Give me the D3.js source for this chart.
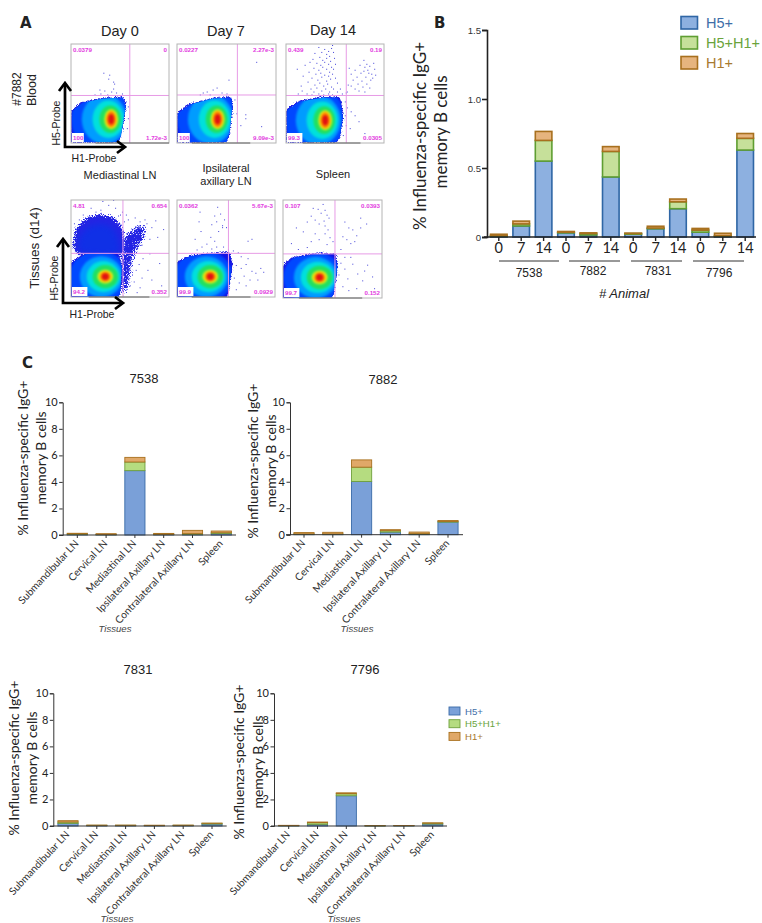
<!DOCTYPE html>
<html><head><meta charset="utf-8">
<script src="https://cdn.jsdelivr.net/npm/d3@7/dist/d3.min.js"></script>
<style>html,body{margin:0;padding:0;background:#fff}svg{display:block}text{fill:#222}</style>
</head><body><svg id="c" width="762" height="923"></svg>
<script>
// ---------- DATA ----------
const seriesKeys = ["H5+","H5+H1+","H1+"];
const bDays = ["0","7","14","0","7","14","0","7","14","0","7","14"];
const bH5   = [.005,.08,.55,.03,.015,.435,.02,.06,.205,.035,.005,.63];
const bBoth = [.005,.015,.15,.005,.01,.185,.005,.005,.05,.015,.005,.085];
const bH1   = [.01,.02,.065,.005,.005,.035,.003,.013,.02,.012,.017,.035];
const bTicks = [0,0.5,1.0,1.5];
const tissues = ["Submandibular LN","Cervical LN","Mediastinal LN","Ipsilateral Axillary LN","Contralateral Axillary LN","Spleen"];
const cTicks = [0,2,4,6,8,10];
const h5_7538=[.05,.02,4.85,.03,.05,.12], both_7538=[.03,.02,.65,.02,.05,.05], h1_7538=[.05,.06,.35,.07,.25,.13];
const h5_7882=[.03,.03,4.02,.2,.04,.95], both_7882=[.03,.03,1.08,.1,.04,.05], h1_7882=[.1,.12,.55,.08,.12,.07];
const h5_7831=[.2,.03,.03,.03,.03,.15], both_7831=[.1,.02,.02,.01,.02,.05], h1_7831=[.1,.02,.02,.02,.02,.02];
const h5_7796=[.02,.13,2.28,.01,.02,.15], both_7796=[.01,.12,.15,.01,.01,.06], h1_7796=[.02,.05,.07,.01,.01,.03];

const flowOutlineDay0=[[1,1],[1,32],[12,41],[33,45],[53,46],[56,37],[51,7],[48,1]];
const flowOutlineDay7=[[1,1],[1,30],[13,39],[36,45],[55,46],[56,37],[53,10],[50,1]];
const flowOutlineDay14=[[1,1],[1,33],[14,42],[38,46],[55,46],[58,26],[55,6],[51,1]];
const flowOutlineMed=[[0,0],[0,35],[16,45],[47,46],[52,31],[50,3],[48,0]];
const flowOutlineIpsi=[[0,0],[0,35],[13,42],[37,45],[54,46],[56,31],[52,3],[50,0]];
const flowOutlineSpl=[[0,0],[0,32],[10,41],[34,45],[53,45],[55,32],[51,4],[49,0]];
const medUpperBlob=[[3,46],[4,68],[10,78],[24,85],[40,84],[51,76],[55,62],[55,42]];
const medUpperCore=[[8,48],[10,64],[20,73],[34,75],[44,69],[49,56],[49,45]];
const medRightBlob=[[52,60],[60,70],[72,76],[79,70],[70,50],[64,38],[62,20],[57,2],[50,2]];
const bloodCores=[[-10,31,33],[-7,23,25],[-3,16,19],[-1,11,14],[0,7,10],[0,5,8],[0,3,5]];
const tissueCores=[[-7,30,27],[-4,22,21],[-2,17,16],[0,13,12],[0,8,7],[0,5.5,5],[0,3.5,3.4]];
const densityColors=["#0048ff","#009cff","#00e0dc","#22e060","#e8ea10","#ff8000","#e01212"];

const ptsDay0=[[33,71],[39,69],[38,65],[43,62],[44,60],[29,54],[34,53],[43,55],[46,51],[24,49],[52,50],[37,49],[56,42],[58,37],[58,25],[57,15],[47,48],[30,50],[41,52],[50,48]];
const ptsDay7=[[52,64],[36,54],[26,51],[40,56],[69,29],[69,25],[80,82],[85,17],[64,18],[23,49],[45,51],[33,49],[50,50],[30,52],[58,44],[60,30]];
const ptsDay14=[[33,97],[39,95],[43,93],[46,96],[47,99],[29,91],[36,92],[41,90],[44,88],[48,92],[27,85],[34,87],[37,84],[41,86],[45,83],[49,86],[24,82],[31,81],[35,79],[39,82],[43,80],[46,77],[50,80],[19,79],[28,76],[33,74],[37,77],[41,75],[44,72],[48,75],[11,75],[23,72],[30,70],[35,71],[39,69],[43,68],[47,70],[17,68],[26,66],[32,64],[36,67],[41,63],[45,65],[50,66],[22,62],[29,59],[34,61],[38,58],[42,60],[46,57],[52,61],[15,58],[25,55],[31,56],[36,53],[40,55],[44,52],[48,55],[16,53],[21,50],[28,52],[33,50],[38,49],[43,50],[47,49],[52,52],[55,55],[12,50],[26,49],[57,50],[61,51],[64,76],[66,70],[68,64],[70,74],[72,67],[73,60],[75,79],[76,71],[77,63],[78,57],[79,73],[80,77],[81,67],[82,60],[83,74],[84,71],[85,78],[86,64],[87,70],[88,66],[89,81],[90,75],[91,69],[79,84],[82,80],[70,55],[74,53],[80,52],[66,58],[63,59],[62,52],[85,56],[60,42],[62,36],[66,32],[70,28],[74,22],[60,28],[65,15],[61,18],[80,10],[58,8]];
const ptsMed=[[32,99],[43,100],[38,95],[20,92],[30,90],[45,92],[52,88],[12,85],[25,88],[50,85],[8,80],[48,84],[58,80],[65,82],[75,80],[86,79],[70,78],[77,76],[82,72],[74,74],[94,70],[88,62],[80,60],[72,54],[80,45],[73,40],[69,34],[78,28],[66,28],[72,20],[64,16],[70,10],[60,12],[90,35],[67,5],[82,18],[92,12],[56,85],[3,76],[54,78]];
const ptsIpsi=[[41,93],[23,88],[38,84],[44,86],[48,80],[22,78],[35,75],[40,78],[46,74],[50,72],[24,68],[42,68],[46,72],[18,60],[34,62],[38,58],[30,55],[25,52],[20,49],[40,52],[35,50],[47,52],[52,49],[57,48],[62,46],[72,58],[76,60],[65,30],[70,34],[76,27],[80,25],[60,33],[68,22],[74,18],[63,15],[85,30],[82,18],[70,12],[60,8],[58,20],[88,26],[72,40],[65,42]];
const ptsSpl=[[40,96],[35,91],[30,92],[42,90],[38,87],[28,84],[44,85],[32,80],[41,79],[24,78],[46,82],[36,76],[42,74],[45,70],[13,72],[20,68],[32,66],[42,66],[47,62],[28,58],[36,60],[44,55],[8,56],[15,50],[24,52],[50,58],[62,78],[66,72],[70,70],[74,64],[78,72],[72,58],[64,60],[60,63],[78,82],[68,56],[84,76],[58,50],[62,30],[65,20],[70,35],[75,25],[80,18],[85,34],[90,22],[60,12],[66,8],[74,10],[82,28],[58,36],[56,24],[92,10],[68,42],[62,42]];

const panels=[
 {x:71,y:44,w:98,h:99,vx:60,hy:48,outline:flowOutlineDay0,peak:[41,24],cores:bloodCores,pts:ptsDay0,ul:"0.0379",ur:"0",ll:"100",lr:"1.72e-3",floor:[25,100]},
 {x:177,y:44,w:99,h:99,vx:61,hy:48.5,outline:flowOutlineDay7,peak:[41,24],cores:bloodCores,pts:ptsDay7,ul:"0.0227",ur:"2.27e-3",ll:"100",lr:"9.09e-3",floor:[15,74]},
 {x:286,y:44,w:98,h:99,vx:61.5,hy:48,outline:flowOutlineDay14,peak:[40,23],cores:bloodCores,pts:ptsDay14,ul:"0.439",ur:"0.19",ll:"99.3",lr:"0.0305",floor:[17,76]},
 {x:71,y:200,w:98,h:97,vx:53,hy:45,outline:flowOutlineMed,peak:[35,21],cores:tissueCores,pts:ptsMed,ul:"4.81",ur:"0.654",ll:"94.2",lr:"0.352",floor:[18,80],extra:true},
 {x:177,y:200,w:98,h:97,vx:52.5,hy:45,outline:flowOutlineIpsi,peak:[34,21],cores:tissueCores,pts:ptsIpsi,ul:"0.0362",ur:"5.67e-3",ll:"99.9",lr:"0.0929",floor:[15,75]},
 {x:283,y:200,w:99,h:98,vx:52.5,hy:45,outline:flowOutlineSpl,peak:[37,21],cores:tissueCores,pts:ptsSpl,ul:"0.107",ur:"0.0393",ll:"99.7",lr:"0.152",floor:[16,80]}
];
const barPanels=[
 {title:"7538",a:[h5_7538,both_7538,h1_7538],ax:62.7,y0:535,y1:402.3,xEnd:236,first:77.3,tx:144,ty:383,t1:28,t2:46,cy:458,tissX:115,tissY:632,xs:59},
 {title:"7882",a:[h5_7882,both_7882,h1_7882],ax:290,y0:534.7,y1:402.3,xEnd:463,first:304,tx:383,ty:384,t1:258,t2:276,cy:461,tissX:357,tissY:632,xs:286},
 {title:"7831",a:[h5_7831,both_7831,h1_7831],ax:53.3,y0:826,y1:693.3,xEnd:226.7,first:68,tx:138,ty:674,t1:19,t2:37,cy:758,tissX:117,tissY:922,xs:50},
 {title:"7796",a:[h5_7796,both_7796,h1_7796],ax:274,y0:826,y1:693.3,xEnd:447,first:288.7,tx:365,ty:674,t1:244,t2:263,cy:762,tissX:344,tissY:922,xs:271}
];
const sans="'Liberation Sans',Arial,sans-serif", cal="Lato,'Noto Sans',sans-serif";
const bStroke=["#2f66a5","#5f9e32","#a8701e"], bFill=["#8db0e0","#c6e09a","#e6b47e"];
const cStroke=["#3a6ba8","#6fa03c","#a8701e"], cFill=["#7aa0d8","#b5dc80","#e0a868"];

// ---------- DRAW ----------
const svg=d3.select("#c");
const defs=svg.append("defs");
const speck=(id,std,slope)=>`<filter id="${id}" x="-30%" y="-30%" width="160%" height="160%" color-interpolation-filters="sRGB">
 <feGaussianBlur in="SourceAlpha" stdDeviation="${std}" result="b"/>
 <feTurbulence type="fractalNoise" baseFrequency="1.1" numOctaves="1" seed="4" result="n"/>
 <feColorMatrix in="n" type="matrix" values="0 0 0 0 0 0 0 0 0 0 0 0 0 0 0 1 0 0 0 0" result="na"/>
 <feComposite in="b" in2="na" operator="arithmetic" k1="0" k2="1" k3="1" k4="-1" result="c"/>
 <feComponentTransfer in="c" result="m"><feFuncA type="linear" slope="${slope}"/></feComponentTransfer>
 <feFlood flood-color="#2424e4"/>
 <feComposite in2="m" operator="in"/>
</filter>`;
defs.html(`<filter id="soft" color-interpolation-filters="sRGB"><feGaussianBlur stdDeviation="1.1"/></filter>
<filter id="soft3" x="-30%" y="-30%" width="160%" height="160%" color-interpolation-filters="sRGB"><feGaussianBlur stdDeviation="3"/></filter>`+speck("speck",2,7)+speck("speck2",4.5,7));
function txt(g,x,y,s,size,o={}){
  const t=g.append("text").attr("x",x).attr("y",y).text(s).attr("font-size",size)
   .attr("font-family",o.font||sans).attr("text-anchor",o.anchor||"middle");
  if(o.fill)t.style("fill",o.fill);
  if(o.weight)t.attr("font-weight",o.weight);
  if(o.italic)t.attr("font-style","italic");
  if(o.rot!==undefined)t.attr("transform",`rotate(${o.rot} ${x} ${y})`);
  return t;
}
// ---- panel A
panels.forEach((p,i)=>{
  const g=svg.append("g");
  const X=d3.scaleLinear([0,100],[p.x,p.x+p.w]), Y=d3.scaleLinear([0,100],[p.y+p.h,p.y]);
  const cid="cl"+i, oid="ol"+i;
  const poly=d3.line().x(d=>X(d[0])).y(d=>Y(d[1])).curve(d3.curveLinearClosed);
  const round=d3.line().x(d=>X(d[0])).y(d=>Y(d[1])).curve(d3.curveCatmullRomClosed.alpha(.5));
  defs.append("clipPath").attr("id",cid).append("rect").attr("x",p.x).attr("y",p.y).attr("width",p.w).attr("height",p.h);
  defs.append("clipPath").attr("id",oid).append("path").attr("d",poly(p.outline));
  const body=g.append("g").attr("clip-path",`url(#${cid})`);
  if(p.extra){
    body.append("path").attr("d",round(medRightBlob)).attr("fill","#000").attr("fill-opacity",.8).attr("filter","url(#speck2)");
    body.append("path").attr("d",round(medUpperBlob)).attr("fill","#000").attr("filter","url(#speck2)");
    body.append("path").attr("d",round(medUpperCore)).attr("fill","#1030e6").attr("filter","url(#soft3)");
  }
  body.append("path").attr("d",poly(p.outline.map(d=>[p.peak[0]+1.05*(d[0]-p.peak[0]),p.peak[1]+1.05*(d[1]-p.peak[1])]))).attr("fill","#000").attr("filter","url(#speck)");
  const clipGroup=body.append("g").attr("clip-path",`url(#${oid})`);
  clipGroup.append("path").attr("d",poly(p.outline)).attr("fill","#1212e6");
  const dens=clipGroup.append("g").attr("filter","url(#soft)");
  p.cores.forEach((c,k)=>{
    dens.append("ellipse").attr("cx",X(p.peak[0]+c[0])).attr("cy",Y(p.peak[1]))
      .attr("rx",X(c[1])-X(0)).attr("ry",Y(0)-Y(c[2])).attr("fill",densityColors[k]);
  });
  body.selectAll("rect.pt").data(p.pts).join("rect").attr("class","pt")
    .attr("x",d=>X(d[0])).attr("y",d=>Y(d[1])).attr("width",1).attr("height",1).attr("fill","#4040d8");
  // gates
  g.append("line").attr("x1",X(p.vx)).attr("x2",X(p.vx)).attr("y1",p.y).attr("y2",p.y+p.h).attr("stroke","#e79be6").attr("stroke-width",1);
  g.append("line").attr("x1",p.x).attr("x2",p.x+p.w).attr("y1",Y(p.hy)).attr("y2",Y(p.hy)).attr("stroke","#e79be6").attr("stroke-width",1);
  g.append("rect").attr("x",p.x).attr("y",p.y).attr("width",p.w).attr("height",p.h).attr("fill","none").attr("stroke","#b4b4b4").attr("stroke-width",1);
  g.append("line").attr("x1",X(p.floor[0])).attr("x2",X(p.floor[1])).attr("y1",p.y+p.h).attr("y2",p.y+p.h).attr("stroke","#666").attr("stroke-width",1);
  const mg="#e23be0";
  g.append("rect").attr("x",p.x+1).attr("y",p.y+p.h-10).attr("width",p.ll.length*3.6+1).attr("height",9).attr("fill","#fff");
  txt(g,p.x+2,p.y+8,p.ul,6.2,{anchor:"start",fill:mg,weight:700});
  txt(g,p.x+p.w-2,p.y+8,p.ur,6.2,{anchor:"end",fill:mg,weight:700});
  txt(g,p.x+2,p.y+p.h-3,p.ll,6.2,{anchor:"start",fill:mg,weight:700});
  txt(g,p.x+p.w-2,p.y+p.h-3,p.lr,6.2,{anchor:"end",fill:mg,weight:700});
});
const ga=svg.append("g");
txt(ga,20,28,"A",15,{anchor:"start",weight:700,font:"'DejaVu Sans',sans-serif"});
[["Day 0",120,36],["Day 7",226,36],["Day 14",333,35]].forEach(d=>txt(ga,d[1],d[2],d[0],14.5));
txt(ga,21,89,"#7882",12,{rot:-90});txt(ga,36,90,"Blood",12.5,{rot:-90});
txt(ga,39,248,"Tissues (d14)",13.5,{rot:-90});
txt(ga,120,179,"Mediastinal LN",11);
txt(ga,226,172,"Ipsilateral",11);txt(ga,226,185,"axillary LN",11);txt(ga,333,178,"Spleen",11);
[[65,147,126,82,60,123,94,162],[63,303,124,238,58,278,92,318]].forEach(a=>{
  const [x,y,xe,ye,lx,ly,hx,hy]=a;
  ga.append("path").attr("d",`M${x} ${ye+2}V${y}H${xe-2}`).attr("fill","none").attr("stroke","#000").attr("stroke-width",2.7);
  ga.append("path").attr("d",`M${x-6} ${ye+9}L${x} ${ye+1}L${x+6} ${ye+9}M${xe-9} ${y-6}L${xe-1} ${y}L${xe-9} ${y+6}`).attr("fill","none").attr("stroke","#000").attr("stroke-width",2.7);
  txt(ga,lx,ly,"H5-Probe",10.5,{rot:-90});txt(ga,hx,hy,"H1-Probe",10.5);
});
// ---- panel B
const gb=svg.append("g");
txt(gb,434,28,"B",15,{anchor:"start",weight:700,font:"'DejaVu Sans',sans-serif"});
const bY=d3.scaleLinear([0,1.5],[237,30]);
const bX=d3.scaleBand().domain(d3.range(12)).range([487.6,756.4]).paddingInner(.26).paddingOuter(.13);
const bRows=d3.range(12).map(i=>({"H5+":bH5[i],"H5+H1+":bBoth[i],"H1+":bH1[i],i}));
d3.stack().keys(seriesKeys)(bRows).forEach((s,k)=>{
  gb.selectAll(null).data(s).join("rect")
   .attr("x",d=>bX(d.data.i)).attr("width",bX.bandwidth())
   .attr("y",d=>bY(d[1])).attr("height",d=>Math.max(.1,bY(d[0])-bY(d[1])))
   .attr("fill",bFill[k]).attr("stroke",bStroke[k]).attr("stroke-width",1.6);
});
const bAxis=gb.append("g").attr("transform","translate(487,0)").call(d3.axisLeft(bY).tickValues(bTicks).tickFormat((d)=>d===0?"0":d3.format(".1f")(d)).tickSize(5).tickPadding(1));
bAxis.select(".domain").attr("stroke","#222").attr("stroke-width",1.6);
bAxis.selectAll("line").attr("stroke","#222").attr("stroke-width",1.6);
bAxis.selectAll("text").attr("font-family",sans).attr("font-size",9.6).style("fill","#333");
const bx2=gb.append("g").attr("transform","translate(0,237)").call(d3.axisBottom(bX).tickSize(4).tickFormat(i=>bDays[i]).tickPadding(2));
bx2.select(".domain").attr("d","M484,0H756").attr("stroke","#222").attr("stroke-width",1.6);
bx2.selectAll("line").attr("stroke","#222").attr("stroke-width",1.4);
bx2.selectAll("text").attr("font-family",cal).attr("font-size",14.5).style("fill","#222");
txt(gb,426,136,"% Influenza-specific IgG+",17,{font:cal,rot:-90});
txt(gb,447,132,"memory B cells",17,{font:cal,rot:-90});
[["7538",499,559,529,277],["7882",569,620,593,275],["7831",631,682,658,275],["7796",693,744,719,277]].forEach(d=>{
  gb.append("line").attr("x1",d[1]).attr("x2",d[2]).attr("y1",261).attr("y2",261).attr("stroke","#333").attr("stroke-width",1);
  txt(gb,d[3],d[4],d[0],12);
});
txt(gb,624,298,"# Animal",13,{italic:true});
const bLegColor=["#3f6ea8","#6aa33c","#a87a30"];
seriesKeys.forEach((k,i)=>{
  const y=16.5+i*20;
  gb.append("rect").attr("x",681).attr("y",y).attr("width",16.5).attr("height",12.5).attr("fill",bFill[i]).attr("stroke",bStroke[i]).attr("stroke-width",1.6);
  txt(gb,706,y+11.5,k,14.5,{anchor:"start",fill:bLegColor[i]});
});
// ---- panel C
const gc=svg.append("g");
txt(gc,22,368,"C",15,{anchor:"start",weight:700,font:"'DejaVu Sans',sans-serif"});
barPanels.forEach(p=>{
  const g=gc.append("g");
  const y=d3.scaleLinear([0,10],[p.y0,p.y1]);
  const x=d3.scaleBand().domain(tissues).range([p.first-14.4,p.first-14.4+28.8*6]).paddingInner(.3).paddingOuter(.15);
  const rows=tissues.map((t,i)=>({t,"H5+":p.a[0][i],"H5+H1+":p.a[1][i],"H1+":p.a[2][i]}));
  d3.stack().keys(seriesKeys)(rows).forEach((s,k)=>{
    g.selectAll(null).data(s).join("rect")
     .attr("x",d=>x(d.data.t)).attr("width",x.bandwidth())
     .attr("y",d=>y(d[1])).attr("height",d=>Math.max(.1,y(d[0])-y(d[1])))
     .attr("fill",cFill[k]).attr("stroke",cStroke[k]).attr("stroke-width",.9);
  });
  const ya=g.append("g").attr("transform",`translate(${p.ax},0)`).call(d3.axisLeft(y).tickValues(cTicks).tickSize(3.5).tickPadding(1.5));
  ya.select(".domain").attr("stroke","#333").attr("stroke-width",1);
  ya.selectAll("line").attr("stroke","#333");
  ya.selectAll("text").attr("font-family",cal).attr("font-size",11).style("fill","#222");
  const xa=g.append("g").attr("transform",`translate(0,${p.y0})`).call(d3.axisBottom(x).tickSize(3).tickFormat(""));
  xa.select(".domain").attr("d",`M${p.xs},0H${p.xEnd}`).attr("stroke","#333").attr("stroke-width",1);
  xa.selectAll("line").attr("stroke","#333");
  tissues.forEach(t=>{
    const lx=x(t)+x.bandwidth()/2+2, ly=p.y0+9;
    txt(g,lx,ly,t,10.3,{anchor:"end",font:cal,rot:-47,fill:"#333"});
  });
  txt(g,p.tx,p.ty,p.title,13);
  txt(g,p.t1,p.cy,"% Influenza-specific IgG+",14,{font:cal,rot:-90});
  txt(g,p.t2,p.cy,"memory B cells",14,{font:cal,rot:-90});
  txt(g,p.tissX,p.tissY,"Tissues",9.6,{italic:true,fill:"#444"});
});
seriesKeys.forEach((k,i)=>{
  const y=707+i*12.7;
  gc.append("rect").attr("x",449).attr("y",y).attr("width",11).attr("height",8).attr("fill",cFill[i]).attr("stroke",cStroke[i]).attr("stroke-width",.9);
  txt(gc,465,y+7.5,k,9.6,{anchor:"start",fill:bLegColor[i]});
});
</script></body></html>
